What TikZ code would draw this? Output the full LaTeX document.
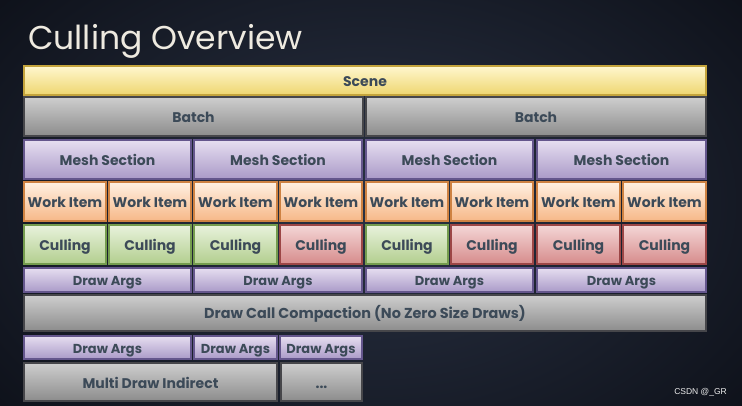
\documentclass[tikz,border=0pt]{standalone}
\usepackage{fontspec}
\setmainfont{Poppins}
\newfontfamily\wmfont{Liberation Sans}
\definecolor{txt}{HTML}{3C4A58}
\definecolor{bgin}{HTML}{2A3244}
\definecolor{bgout}{HTML}{0C0F17}
\definecolor{titlec}{HTML}{EEEAE0}
\tikzset{
  cellbase/.style={draw, line width=1.2pt, inner sep=0pt, text=txt, text height=12pt, text depth=0pt, font=\bfseries\fontsize{14}{14}\selectfont},
  scenebox/.style={cellbase, top color={rgb,255:red,255;green,247;blue,206}, bottom color={rgb,255:red,238;green,214;blue,112}, draw={rgb,255:red,196;green,164;blue,60}, font=\bfseries\fontsize{14}{14}\selectfont},
  graybox/.style={cellbase, top color={rgb,255:red,206;green,206;blue,206}, bottom color={rgb,255:red,140;green,140;blue,140}, draw={rgb,255:red,70;green,70;blue,74}},
  widebox/.style={graybox, font=\bfseries\fontsize{14.4}{14.4}\selectfont},
  meshbox/.style={cellbase, top color={rgb,255:red,230;green,222;blue,240}, bottom color={rgb,255:red,170;green,154;blue,200}, draw={rgb,255:red,100;green,86;blue,140}},
  workbox/.style={cellbase, top color={rgb,255:red,255;green,240;blue,226}, bottom color={rgb,255:red,246;green,184;blue,136}, draw={rgb,255:red,206;green,130;blue,66}},
  greenbox/.style={cellbase, top color={rgb,255:red,232;green,242;blue,220}, bottom color={rgb,255:red,178;green,206;blue,142}, draw={rgb,255:red,116;green,156;blue,78}},
  redbox/.style={cellbase, top color={rgb,255:red,244;green,214;blue,214}, bottom color={rgb,255:red,214;green,140;blue,140}, draw={rgb,255:red,156;green,70;blue,70}},
  argsbox/.style={meshbox, text height=11pt, font=\bfseries\fontsize{13}{13}\selectfont},
}
\newcommand\cellbox[7]{%
  \pgfmathsetmacro\cbw{#5-#3}\pgfmathsetmacro\cbh{#6-#4}%
  \pgfmathsetmacro\cbx{(#3+#5)/2}\pgfmathsetmacro\cby{(#4+#6)/2}%
  \node[#1, minimum width=\cbw pt, minimum height=\cbh pt] (#2) at (\cbx,\cby) {#7};}
\begin{document}
\begin{tikzpicture}[x=1pt,y=-1pt]
\useasboundingbox (0,0) rectangle (742,406);
\shade[inner color=bgin, outer color=bgout] (-150,-150) rectangle (892,556);
\node[anchor=base west, inner sep=0, text=titlec, font=\fontsize{33}{33}\selectfont] (title) at (28,50) {Culling Overview};
\cellbox{scenebox}{scene}{24}{66}{706}{95}{Scene}
\cellbox{graybox}{b1}{24}{97}{363}{136}{Batch}
\cellbox{graybox}{b2}{366}{97}{706}{136}{Batch}
\cellbox{meshbox}{m1}{24}{140}{191}{179}{Mesh Section}
\cellbox{meshbox}{m2}{194}{140}{362}{179}{Mesh Section}
\cellbox{meshbox}{m3}{366}{140}{533}{179}{Mesh Section}
\cellbox{meshbox}{m4}{537}{140}{706}{179}{Mesh Section}
\cellbox{workbox}{w1}{24}{182}{106}{221}{Work Item}
\cellbox{workbox}{w2}{109}{182}{191}{221}{Work Item}
\cellbox{workbox}{w3}{194}{182}{277}{221}{Work Item}
\cellbox{workbox}{w4}{280}{182}{362}{221}{Work Item}
\cellbox{workbox}{w5}{366}{182}{448}{221}{Work Item}
\cellbox{workbox}{w6}{451}{182}{533}{221}{Work Item}
\cellbox{workbox}{w7}{537}{182}{620}{221}{Work Item}
\cellbox{workbox}{w8}{623}{182}{706}{221}{Work Item}
\cellbox{greenbox}{c1}{24}{225}{106}{264}{Culling}
\cellbox{greenbox}{c2}{109}{225}{191}{264}{Culling}
\cellbox{greenbox}{c3}{194}{225}{277}{264}{Culling}
\cellbox{redbox}{c4}{280}{225}{362}{264}{Culling}
\cellbox{greenbox}{c5}{366}{225}{448}{264}{Culling}
\cellbox{redbox}{c6}{451}{225}{533}{264}{Culling}
\cellbox{redbox}{c7}{537}{225}{620}{264}{Culling}
\cellbox{redbox}{c8}{623}{225}{706}{264}{Culling}
\cellbox{argsbox}{a1}{24}{268}{191}{292}{Draw Args}
\cellbox{argsbox}{a2}{194}{268}{362}{292}{Draw Args}
\cellbox{argsbox}{a3}{366}{268}{533}{292}{Draw Args}
\cellbox{argsbox}{a4}{537}{268}{706}{292}{Draw Args}
\cellbox{widebox}{dc}{24}{295}{706}{331}{Draw Call Compaction (No Zero Size Draws)}
\cellbox{argsbox}{d1}{24}{336}{191}{359}{Draw Args}
\cellbox{argsbox}{d2}{194}{336}{277}{359}{Draw Args}
\cellbox{argsbox}{d3}{280}{336}{362}{359}{Draw Args}
\cellbox{graybox}{mdi}{24}{363}{277}{401}{Multi Draw Indirect}
\cellbox{graybox}{dots}{281}{363}{362}{401}{...}
\node[anchor=base east, inner sep=0, text=white!85!gray, font=\wmfont\fontsize{8.5}{8.5}\selectfont] (wm) at (727,394) {CSDN @\_GR};
\end{tikzpicture}
\end{document}
